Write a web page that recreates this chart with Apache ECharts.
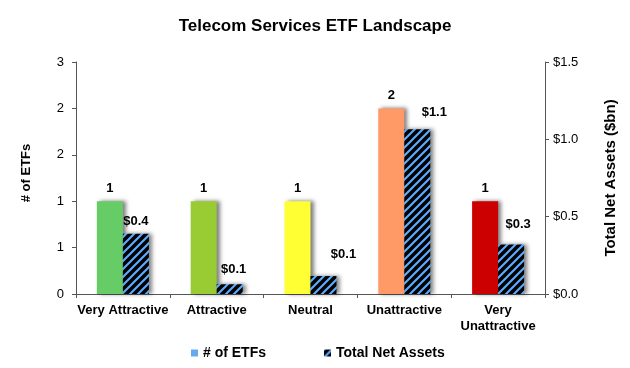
<!DOCTYPE html>
<html><head><meta charset="utf-8">
<script src="https://cdn.jsdelivr.net/npm/echarts@6/dist/echarts.min.js"></script>
<style>html,body{margin:0;padding:0;background:#fff}#c{width:630px;height:368px}</style>
</head><body><div id="c"></div>
<script>
const categories = ['Very Attractive', 'Attractive', 'Neutral', 'Unattractive', 'Very\nUnattractive'];
const etfCounts = [1, 1, 1, 2, 1];
const netAssets = [0.39, 0.063, 0.116, 1.065, 0.32];
const barColors = ['#66cc66', '#99cc33', '#ffff33', '#ff9966', '#cc0000'];
const leftTicks = [0, 0.5, 1, 1.5, 2, 2.5];
const rightTicks = [0, 0.5, 1.0, 1.5];

function makePattern() {
  const c = document.createElement('canvas');
  c.width = 8; c.height = 8;
  const g = c.getContext('2d');
  g.fillStyle = '#000'; g.fillRect(0, 0, 8, 8);
  g.strokeStyle = '#5aaaff'; g.lineWidth = 2.2;
  g.beginPath();
  g.moveTo(-1, 9); g.lineTo(9, -1);
  g.moveTo(-1, 1); g.lineTo(1, -1);
  g.moveTo(7, 9); g.lineTo(9, 7);
  g.stroke();
  return c;
}
const pattern = { image: makePattern(), repeat: 'repeat' };
const font = 'Arial, "Liberation Sans", sans-serif';
const shadow = { shadowColor: 'rgba(0,0,0,0.5)', shadowBlur: 4, shadowOffsetX: 3, shadowOffsetY: 0 };

function assetLabelOffset(i) {
  // manually nudged data labels, as in the source chart
  return [[0, 0], [4, -2], [20, -9], [17, -4], [7, -8]][i];
}

const chart = echarts.init(document.getElementById('c'), null, { renderer: 'canvas' });
chart.setOption({
  animation: false,
  textStyle: { fontFamily: font },
  title: {
    text: 'Telecom Services ETF Landscape', left: 'center', top: 13,
    textStyle: { fontFamily: font, fontSize: 17, fontWeight: 'bold', color: '#000' }
  },
  legend: {
    bottom: 3, left: 186, itemGap: 58, itemWidth: 7, itemHeight: 7, icon: 'rect',
    textStyle: { fontFamily: font, fontSize: 14, fontWeight: 'bold', color: '#000' },
    data: [
      { name: '# of ETFs', itemStyle: { color: '#66aaee' } },
      { name: 'Total Net Assets' }
    ]
  },
  grid: { left: 76, right: 85, top: 62, bottom: 74, containLabel: false },
  xAxis: {
    type: 'category', data: categories,
    axisLine: { lineStyle: { color: '#555', width: 1 } },
    axisTick: { show: true, length: 4, lineStyle: { color: '#555' } },
    axisLabel: { fontFamily: font, fontSize: 13, fontWeight: 'bold', color: '#000', margin: 8, lineHeight: 16, interval: 0 }
  },
  yAxis: [
    {
      type: 'value', min: leftTicks[0], max: leftTicks[leftTicks.length - 1], interval: 0.5,
      name: '# of ETFs', nameLocation: 'middle', nameGap: 43, nameRotate: 90,
      nameTextStyle: { fontFamily: font, fontSize: 13, fontWeight: 'bold', color: '#000', padding: [0, 0, 0, 10] },
      axisLine: { show: true, lineStyle: { color: '#555' } },
      axisTick: { show: true, length: 4, lineStyle: { color: '#555' } },
      splitLine: { show: false },
      axisLabel: { fontFamily: font, fontSize: 13, color: '#000', margin: 12, formatter: v => String(Math.round(v)) }
    },
    {
      type: 'value', min: rightTicks[0], max: rightTicks[rightTicks.length - 1], interval: 0.5,
      name: 'Total Net Assets ($bn)', nameLocation: 'middle', nameGap: 58, nameRotate: 90,
      nameTextStyle: { fontFamily: font, fontSize: 15, fontWeight: 'bold', color: '#000' },
      axisLine: { show: true, lineStyle: { color: '#555' } },
      axisTick: { show: true, length: 4, lineStyle: { color: '#555' } },
      splitLine: { show: false },
      axisLabel: { fontFamily: font, fontSize: 13, color: '#000', margin: 8, formatter: v => '$' + v.toFixed(1) }
    }
  ],
  series: [
    {
      name: '# of ETFs', type: 'bar', yAxisIndex: 0, barWidth: 26, barGap: '0%',
      data: etfCounts.map((v, i) => ({ value: v, itemStyle: Object.assign({ color: barColors[i] }, shadow) })),
      label: { show: true, position: 'top', distance: 6, fontFamily: font, fontSize: 13, fontWeight: 'bold', color: '#000', formatter: p => String(p.value) }
    },
    {
      name: 'Total Net Assets', type: 'bar', yAxisIndex: 1, barWidth: 26,
      itemStyle: Object.assign({ color: pattern }, shadow),
      data: netAssets.map((v, i) => ({ value: v, label: { offset: assetLabelOffset(i) } })),
      label: { show: true, position: 'top', distance: 6, fontFamily: font, fontSize: 13, fontWeight: 'bold', color: '#000', formatter: p => '$' + p.value.toFixed(1) }
    }
  ]
});
</script></body></html>
